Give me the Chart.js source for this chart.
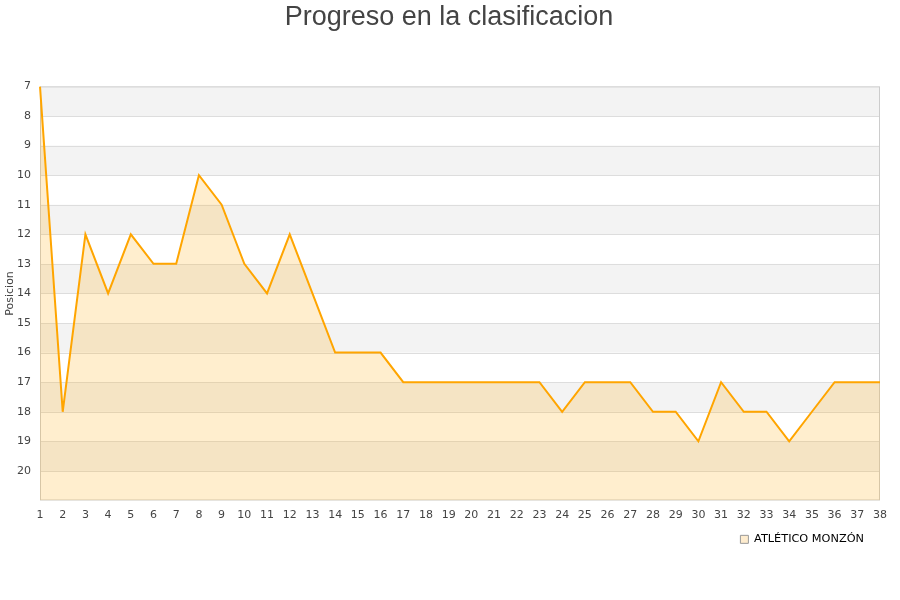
<html>
<head>
<style>
  body { margin: 0; background: #fff; }
  #wrap { width: 900px; height: 600px; }
</style>
</head>
<body>
<div id="wrap"><canvas id="myChart"></canvas></div>
<script src="https://cdn.jsdelivr.net/npm/chart.js"></script>
<script>
let jornadas = [];
for (let i = 1; i <= 38; i++) jornadas.push(String(i));

let posiciones = [7, 18, 12, 14, 12, 13, 13, 10, 11, 13, 14, 12, 14, 16, 16, 16, 17, 17, 17, 17,
                  17, 17, 17, 18, 17, 17, 17, 18, 18, 19, 17, 18, 18, 19, 18, 17, 17, 17];

let equipo = 'ATLÉTICO MONZÓN';

// grey bands every other row, plus a thin frame round the plot
let bandas = {
  id: 'bandas',
  afterLayout(chart) {
    // nudge legend left and title to the page centre
    chart.legend.left -= 12; chart.legend.right -= 12;
    chart.titleBlock.left += 7; chart.titleBlock.right += 7;
  },
  beforeDatasetsDraw(chart) {
    let ctx = chart.ctx, a = chart.chartArea, y = chart.scales.y;
    ctx.save();
    ctx.fillStyle = '#f3f3f3';
    for (let v = 7; v < 21; v += 2) {
      let t = y.getPixelForValue(v), b = y.getPixelForValue(v + 1);
      ctx.fillRect(a.left, t, a.right - a.left, b - t);
    }
    ctx.strokeStyle = '#dddddd';
    ctx.lineWidth = 1;
    for (let v = 8; v < 21; v++) {
      let p = Math.round(y.getPixelForValue(v)) + 0.5;
      ctx.beginPath(); ctx.moveTo(a.left, p); ctx.lineTo(a.right, p); ctx.stroke();
    }
    ctx.strokeStyle = '#cccccc';
    ctx.strokeRect(a.left + 0.5, a.top + 0.5, a.right - a.left - 1, a.bottom - a.top - 1);
    ctx.restore();
  }
};

let myChart = new Chart(document.getElementById('myChart'), {
  type: 'line',
  data: {
    labels: jornadas,
    datasets: [{
      label: equipo,
      data: posiciones,
      borderColor: '#ffa500',
      backgroundColor: 'rgba(255, 176, 30, 0.22)',
      borderWidth: 2,
      pointRadius: 0,
      tension: 0,
      fill: 'start'
    }]
  },
  options: {
    responsive: true,
    maintainAspectRatio: false,
    animation: false,
    layout: { padding: { left: 4, right: 20, top: 1, bottom: 45 } },
    plugins: {
      title: {
        display: true,
        text: 'Progreso en la clasificacion',
        color: '#444',
        font: { family: 'Liberation Sans', size: 27, weight: 'normal' },
        padding: { top: 0, bottom: 53 }
      },
      legend: {
        position: 'bottom',
        align: 'end',
        labels: {
          color: '#111',
          boxWidth: 8,
          boxHeight: 8,
          padding: 4,
          font: { family: 'DejaVu Sans', size: 11.3 },
          generateLabels(chart) {
            return [{
              text: equipo,
              fillStyle: '#feecce',
              strokeStyle: '#999',
              lineWidth: 1,
              datasetIndex: 0
            }];
          }
        }
      },
      tooltip: { enabled: false }
    },
    scales: {
      x: {
        offset: false,
        grid: { display: false, drawTicks: false },
        border: { display: false },
        ticks: { color: '#444', font: { family: 'DejaVu Sans', size: 11 }, maxRotation: 0, autoSkip: false, padding: 8 }
      },
      y: {
        reverse: true,
        min: 7,
        max: 21,
        grid: { display: false, drawTicks: false },
        border: { display: false },
        title: { display: true, text: 'Posicion', color: '#444', font: { family: 'DejaVu Sans', size: 11 }, padding: 0 },
        ticks: {
          stepSize: 1,
          color: '#444',
          font: { family: 'DejaVu Sans', size: 11 },
          padding: 9,
          callback: v => (v === 21 ? '' : v)
        },
        afterFit(scale) { scale.width = 36; }
      }
    }
  },
  plugins: [bandas]
});
</script>
</body>
</html>
